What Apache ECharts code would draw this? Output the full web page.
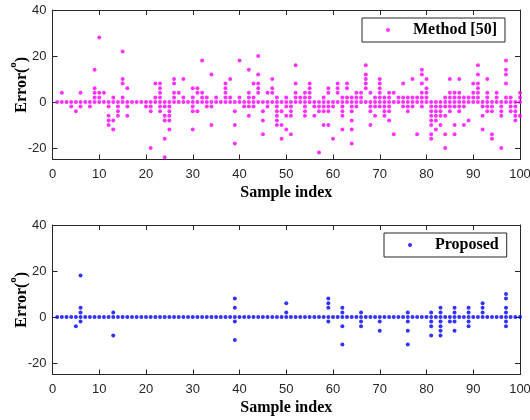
<!DOCTYPE html>
<html>
<head>
<meta charset="utf-8">
<script src="https://cdn.jsdelivr.net/npm/echarts@6/dist/echarts.min.js"></script>
<style>html,body{margin:0;padding:0;background:#fff}#c{width:530px;height:420px}</style>
</head>
<body>
<div id="c"></div>
<script>
// Sample indices (x values)
const sampleIndex = [1,2,3,4,5,6,7,8,9,10,11,12,13,14,15,16,17,18,19,20,21,22,23,24,25,26,27,28,29,30,31,32,33,34,35,36,37,38,39,40,41,42,43,44,45,46,47,48,49,50,51,52,53,54,55,56,57,58,59,60,61,62,63,64,65,66,67,68,69,70,71,72,73,74,75,76,77,78,79,80,81,82,83,84,85,86,87,88,89,90,91,92,93,94,95,96,97,98,99,100];

// Errors (degrees) of Method [50], one list per sample index
const methodErrors = [
 [0],[4,0],[0],[0,-2],[0,-4],[4,0,-2],[0],[0,-2],[14,6,4,2,0],[28,4,2,0],
 [4,0],[0,-2,-6,-8,-10],[2,0,-8,-12],[0,-2,-4,-6],[22,10,8,2,0],[6,0,-2,-6],[0],[0],[0],[0,-2],
 [0,-2,-4,-20],[8,2,0],[8,6,4,2,0,-2,-4],[0,-2,-6,-8,-16,-24],[0,-2,-4,-6,-8,-12],[10,8,4,2,0],[4,0],[10,2,0],[0],[6,2,0,-2,-4,-12],
 [6,4,0,-4],[18,4,2,0],[2,0,-2],[12,0,-2,-10],[2,0],[0],[8,6,4,2,0],[10,2,0],[0,-4,-10,-18],[18,2,0],
 [0,-2],[14,4,2,0,-2,-6],[8,2,0,-2],[20,12,8,6,4,0],[0,-4,-8,-14],[4,0,-2],[10,6,4,0],[2,0,-2,-4,-6,-8,-10],[0,-4,-10,-16],[2,0,-2,-6,-12],
 [0,-2,-4,-6,-14],[16,8,4,2,0],[2,0],[4,2,0,-2,-4,-6],[8,6,4,2,0],[0,-2,-6],[0,-2,-4,-22],[2,0,-2,-4,-10],[6,4,0,-2,-4,-10],[0,-2,-16],
 [8,6,4,0],[2,0,-2,-4,-6,-12],[8,6,2,0],[2,0,-2,-4,-8,-12,-18],[4,2,0,-2],[4,2,0],[16,12,10,8,6,0],[4,0,-2,-4,-10],[2,0,-2,-6],[10,8,6,4,2,0,-2],
 [2,0,-2,-4,-6],[4,2,0,-2,-4,-8],[4,0,-14],[2,0],[8,2,0,-2],[2,0,-2,-4],[10,2,0,-2],[2,0,-14],[14,12,8,4,2,0,-2],[10,6,4,2,0],
 [0,-2,-4,-6,-8,-10,-14,-16],[0,-2,-4,-6,-8,-12],[0,-2,-4,-6,-10],[2,0,-2,-6,-14,-20],[10,4,2,0,-2,-4],[4,2,0,-2,-10,-14],[10,4,2,0,-2,-4],[2,0,-2,-10],[2,0,-8],[8,4,2,0],
 [16,12,8,6,4,2,0],[0,-2,-6,-12],[10,4,2,0,-2,-4],[0,-2,-4,-14,-16],[4,2,0],[0,-2,-4,-6,-20],[18,14,12,8,2,0],[2,0,-2,-4],[0,-2,-4,-6,-8],[4,2,0,-6]
];

// Errors (degrees) of the Proposed method, one list per sample index
const proposedErrors = [
 [0],[0],[0],[0],[0,-4],[18,4,2,0,-2],[0],[0],[0],[0],
 [0],[0],[2,0,-8],[0],[0],[0],[0],[0],[0],[0],
 [0],[0],[0],[0],[0],[0],[0],[0],[0],[0],
 [0],[0],[0],[0],[0],[0],[0],[0],[8,4,0,-2,-10],[0],
 [0],[0],[0],[0],[0],[0],[0],[0],[0],[6,2,0],
 [0],[0],[0],[0],[0],[0],[0],[0],[8,6,4,0,-2],[0],
 [0],[4,2,0,-4,-12],[0],[0],[0],[2,0,-2,-4],[0],[0],[0],[0,-2,-6],
 [0],[0],[0],[0],[0],[2,0,-2,-6,-12],[0],[0],[0],[0],
 [2,0,-2,-4,-8],[0],[4,2,0,-2,-4,-6,-8],[0],[0,-2],[4,2,0,-2,-6],[0],[0],[4,2,0,-2,-4],[0],
 [0],[6,4,2,0],[0],[0],[0],[0],[10,8,4,2,0,-2,-4],[0],[0],[0]
];

const seriesNames = ['Method [50]', 'Proposed'];
const yTicks = [-20, 0, 20, 40];
const xLabel = 'Sample index';

function toPoints(errs) {
  const pts = [];
  errs.forEach((vals, i) => vals.forEach(v => pts.push([sampleIndex[i], v])));
  return pts;
}

const axisColor = '#262626';
const tickFont = { color: axisColor, fontFamily: 'Liberation Sans', fontSize: 13 };
const nameFont = { fontFamily: 'Liberation Serif', fontWeight: 'bold', fontSize: 16, color: '#000' };

function xAxes(gridIndex) {
  return [
    { type: 'value', gridIndex, min: 0, max: 100, interval: 10, position: 'bottom',
      axisLine: { show: true, onZero: false, lineStyle: { color: axisColor, width: 1 } },
      axisTick: { show: true, inside: true, length: 5, lineStyle: { color: axisColor } },
      axisLabel: Object.assign({ margin: 8 }, tickFont),
      splitLine: { show: false },
      name: xLabel, nameLocation: 'middle', nameGap: 25, nameTextStyle: nameFont },
    { type: 'value', gridIndex, min: 0, max: 100, interval: 10, position: 'top',
      axisLine: { show: true, onZero: false, lineStyle: { color: axisColor, width: 1 } },
      axisTick: { show: true, inside: true, length: 5, lineStyle: { color: axisColor } },
      axisLabel: { show: false }, splitLine: { show: false } }
  ];
}
function yAxes(gridIndex) {
  return [
    { type: 'value', gridIndex, min: -25, max: 40, position: 'left',
      axisLine: { show: true, onZero: false, lineStyle: { color: axisColor, width: 1 } },
      axisTick: { show: true, inside: true, length: 5, customValues: yTicks, lineStyle: { color: axisColor } },
      axisLabel: Object.assign({ margin: 6, customValues: yTicks }, tickFont),
      splitLine: { show: false },
      name: '{a|Error(}{s|o}{a|)}', nameLocation: 'middle', nameGap: 23, nameRotate: 90,
      nameMoveOverlap: false,
      nameTextStyle: { rich: {
        a: { fontFamily: 'Liberation Serif', fontWeight: 'bold', fontSize: 16, lineHeight: 22, color: '#000', verticalAlign: 'bottom' },
        s: { fontFamily: 'Liberation Serif', fontWeight: 'bold', fontSize: 11, lineHeight: 11, color: '#000', verticalAlign: 'top' }
      } } },
    { type: 'value', gridIndex, min: -25, max: 40, position: 'right',
      axisLine: { show: true, onZero: false, lineStyle: { color: axisColor, width: 1 } },
      axisTick: { show: true, inside: true, length: 5, customValues: yTicks, lineStyle: { color: axisColor } },
      axisLabel: { show: false }, splitLine: { show: false } }
  ];
}

const legendBase = {
  orient: 'horizontal', padding: [4, 8, 4, 24], itemWidth: 40, itemHeight: 4, itemGap: 5,
  borderColor: axisColor, borderWidth: 1, backgroundColor: '#fff', icon: 'circle',
  textStyle: { fontFamily: 'Liberation Serif', fontWeight: 'bold', fontSize: 16, color: '#000' }
};

const chart = echarts.init(document.getElementById('c'), null, { renderer: 'canvas' });
chart.setOption({
  animation: false,
  backgroundColor: '#fff',
  grid: [
    { left: 52.5, right: 10, top: 10, height: 149.5, outerBoundsMode: 'none' },
    { left: 52.5, right: 10, top: 225, height: 149.5, outerBoundsMode: 'none' }
  ],
  xAxis: xAxes(0).concat(xAxes(1)),
  yAxis: yAxes(0).concat(yAxes(1)),
  legend: [
    Object.assign({}, legendBase, { left: 362, top: 18, data: [seriesNames[0]] }),
    Object.assign({}, legendBase, { left: 384, top: 233, data: [seriesNames[1]] })
  ],
  series: [
    { name: seriesNames[0], type: 'scatter', xAxisIndex: 0, yAxisIndex: 0, symbolSize: 4,
      itemStyle: { color: '#ff00ff' }, data: toPoints(methodErrors) },
    { name: seriesNames[1], type: 'scatter', xAxisIndex: 2, yAxisIndex: 2, symbolSize: 4,
      itemStyle: { color: '#0000ff' }, data: toPoints(proposedErrors) }
  ]
});
</script>
</body>
</html>
